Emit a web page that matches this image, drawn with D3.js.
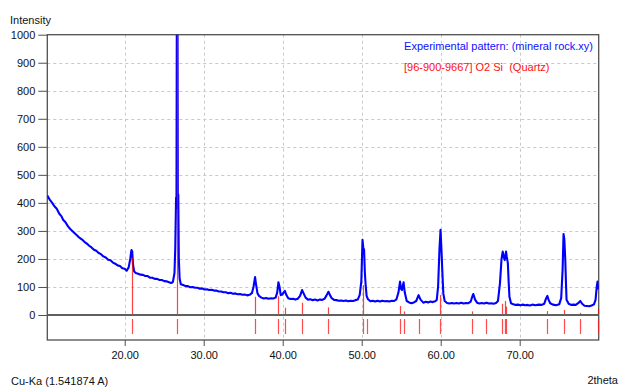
<!DOCTYPE html>
<html>
<head>
<meta charset="utf-8">
<script src="https://cdn.jsdelivr.net/npm/d3@7"></script>
<style>
  html, body { margin: 0; padding: 0; background: #fff; }
  svg text { font-family: 'Liberation Sans', Arial, sans-serif; font-size: 11px; fill: #111; }
</style>
</head>
<body>
<div class="container"></div>
<script>
// Experimental pattern, [2theta, intensity]
const pattern = [
  [10.2, 426], [10.5, 412], [10.8, 401], [11.1, 388], [11.4, 379], [11.7, 362], [12.0, 352], [12.2, 340],
  [12.5, 331], [12.8, 317], [13.1, 307], [13.4, 299], [13.7, 291], [14.0, 283], [14.3, 275], [14.6, 269],
  [14.9, 261], [15.2, 255], [15.5, 247], [15.8, 241], [16.1, 233], [16.4, 229], [16.7, 221], [17.0, 217],
  [17.3, 209], [17.6, 205], [17.9, 197], [18.2, 195], [18.5, 187], [18.8, 183], [19.1, 177], [19.4, 175],
  [19.7, 167], [20.0, 165], [20.25, 158], [20.5, 170], [20.7, 200], [20.8, 222], [20.86, 232], [20.95, 226],
  [21.05, 180], [21.2, 155], [21.4, 150], [21.7, 147], [22.0, 144], [22.3, 143], [22.6, 139], [22.9, 139],
  [23.2, 133], [23.5, 133], [23.8, 129], [24.1, 129], [24.4, 125], [24.7, 125], [25.0, 121], [25.3, 120],
  [25.6, 117], [25.9, 114], [26.1, 118], [26.3, 150], [26.4, 240], [26.5, 418], [26.55, 380], [26.6, 1150],
  [26.68, 1150], [26.72, 430], [26.78, 430], [26.85, 200], [26.95, 130], [27.1, 110], [27.4, 107], [27.7, 103],
  [28.0, 103], [28.3, 99], [28.6, 100], [28.9, 97], [29.2, 97], [29.5, 94], [29.8, 95], [30.1, 91],
  [30.4, 92], [30.7, 89], [31.0, 90], [31.3, 87], [31.6, 87], [31.9, 84], [32.2, 84], [32.5, 81],
  [32.8, 81], [33.1, 78], [33.4, 79], [33.7, 76], [34.0, 77], [34.3, 74], [34.6, 75], [34.9, 72],
  [35.2, 73], [35.5, 70], [35.8, 72], [36.1, 78], [36.3, 100], [36.5, 135], [36.62, 110], [36.8, 78],
  [37.0, 68], [37.3, 62], [37.6, 59], [37.9, 61], [38.2, 58], [38.5, 60], [38.8, 59], [39.1, 62],
  [39.3, 80], [39.46, 117], [39.6, 100], [39.75, 71], [39.9, 72], [40.1, 80], [40.27, 86], [40.45, 72],
  [40.7, 60], [41.0, 57], [41.3, 58], [41.6, 55], [41.9, 58], [42.2, 68], [42.45, 89], [42.6, 80],
  [42.9, 62], [43.2, 55], [43.5, 56], [43.8, 53], [44.1, 55], [44.4, 52], [44.7, 55], [45.0, 54],
  [45.3, 58], [45.55, 70], [45.79, 83], [46.0, 70], [46.2, 60], [46.5, 54], [46.8, 53], [47.1, 51],
  [47.4, 52], [47.7, 50], [48.0, 52], [48.3, 49], [48.6, 51], [48.9, 50], [49.2, 53], [49.5, 55],
  [49.75, 72], [49.95, 120], [50.1, 268], [50.2, 240], [50.3, 232], [50.4, 150], [50.5, 107], [50.62, 68],
  [50.8, 56], [51.1, 49], [51.4, 51], [51.7, 48], [52.0, 51], [52.3, 48], [52.6, 51], [52.9, 49],
  [53.2, 50], [53.5, 48], [53.8, 51], [54.1, 50], [54.4, 56], [54.65, 80], [54.85, 119], [55.0, 92],
  [55.1, 89], [55.3, 117], [55.45, 80], [55.7, 50], [56.0, 45], [56.3, 42], [56.6, 45], [56.9, 50],
  [57.2, 71], [57.45, 55], [57.8, 44], [58.1, 47], [58.4, 45], [58.7, 48], [59.0, 46], [59.3, 49],
  [59.5, 54], [59.67, 101], [59.85, 240], [59.98, 304], [60.1, 230], [60.18, 173], [60.33, 77], [60.5, 50],
  [60.8, 43], [61.1, 41], [61.4, 43], [61.7, 41], [62.0, 43], [62.3, 41], [62.6, 44], [62.9, 41],
  [63.2, 43], [63.5, 42], [63.8, 48], [64.0, 66], [64.13, 75], [64.35, 55], [64.6, 44], [64.9, 41],
  [65.2, 43], [65.5, 41], [65.8, 44], [66.1, 41], [66.4, 42], [66.7, 40], [67.0, 43], [67.25, 50],
  [67.5, 113], [67.7, 200], [67.85, 226], [68.0, 205], [68.1, 196], [68.27, 226], [68.35, 210], [68.5, 185],
  [68.6, 120], [68.7, 65], [68.9, 42], [69.2, 38], [69.5, 36], [69.8, 37], [70.1, 35], [70.4, 37],
  [70.7, 35], [71.0, 36], [71.3, 34], [71.6, 37], [72.0, 35], [72.4, 37], [72.8, 36], [73.1, 40],
  [73.35, 60], [73.5, 68], [73.65, 55], [73.86, 42], [74.2, 37], [74.6, 35], [75.0, 38], [75.25, 60],
  [75.43, 161], [75.55, 289], [75.65, 270], [75.77, 196], [75.85, 120], [75.93, 54], [76.2, 40], [76.5, 36],
  [76.8, 37], [77.1, 36], [77.4, 42], [77.67, 50], [77.9, 40], [78.2, 33], [78.5, 32], [78.8, 31],
  [79.1, 34], [79.4, 38], [79.6, 54], [79.75, 100], [79.85, 119], [79.95, 95], [80.0, 100]
];

// Reference pattern sticks: [96-900-9667] O2 Si (Quartz)
const stickPos = [20.86, 26.64, 36.54, 39.46, 40.29, 42.45, 45.79, 50.14, 50.62, 54.87, 55.33,
  57.24, 59.96, 63.99, 65.79, 67.74, 68.14, 68.32, 73.47, 75.66, 77.67, 79.88];
const stickHeight = [205, 1000, 65, 67, 26, 44, 27, 107, 4, 32, 13,
  5, 71, 13, 3, 40, 50, 30, 14, 18, 8, 22];

const yTicks = [0, 100, 200, 300, 400, 500, 600, 700, 800, 900, 1000];
const xTicks = [20, 30, 40, 50, 60, 70];
const legendLabels = ['Experimental pattern: (mineral rock.xy)', '[96-900-9667] O2 Si  (Quartz)'];

// Constants
const width = 622;
const height = 388;
const plotLeft = 47.3;
const plotRight = 598.7;
const plotTop = 34.7;
const zeroY = 315;
const plotBottom = 340;

const svg = d3.select('.container')
  .append('svg')
  .attr('width', width)
  .attr('height', height);

const x = d3.scaleLinear().domain([10.2, 80]).range([plotLeft, plotRight]);
const y = d3.scaleLinear().domain([0, 1000]).range([zeroY, plotTop]);

svg.append('clipPath').attr('id', 'plot-clip')
  .append('rect')
  .attr('x', plotLeft).attr('y', plotTop)
  .attr('width', plotRight - plotLeft).attr('height', zeroY - plotTop);

// Grid
svg.append('g')
  .selectAll('line')
  .data(yTicks.filter((d) => d > 0 && d < 1000))
  .enter()
  .append('line')
  .attr('x1', plotLeft).attr('x2', plotRight)
  .attr('y1', (d) => Math.round(y(d)) + 0.5)
  .attr('y2', (d) => Math.round(y(d)) + 0.5)
  .attr('stroke', '#c9c9c9')
  .attr('stroke-dasharray', '3,3');

svg.append('g')
  .selectAll('line')
  .data(xTicks)
  .enter()
  .append('line')
  .attr('x1', (d) => Math.round(x(d)) + 0.5)
  .attr('x2', (d) => Math.round(x(d)) + 0.5)
  .attr('y1', plotTop).attr('y2', plotBottom)
  .attr('stroke', '#c9c9c9')
  .attr('stroke-dasharray', '3,3');

// Zero line and frame
svg.append('line')
  .attr('x1', plotLeft).attr('x2', plotRight)
  .attr('y1', y(0)).attr('y2', y(0))
  .attr('stroke', '#606060').attr('stroke-width', 2);

svg.append('rect')
  .attr('x', plotLeft).attr('y', plotTop)
  .attr('width', plotRight - plotLeft).attr('height', plotBottom - plotTop)
  .attr('fill', 'none')
  .attr('stroke', '#505050').attr('stroke-width', 1.3);

// Y axis
const yAxis = svg.append('g')
  .attr('transform', `translate(${plotLeft},0)`)
  .call(d3.axisLeft(y).tickValues(yTicks).tickFormat(d3.format('d')).tickSize(9).tickPadding(3));
yAxis.select('.domain').remove();
yAxis.selectAll('.tick line').attr('stroke', '#505050');
yAxis.selectAll('text').attr('font-size', '11px').attr('font-family', null);

// X axis
const xAxis = svg.append('g')
  .attr('transform', `translate(0,${plotBottom})`)
  .call(d3.axisBottom(x).tickValues(xTicks).tickFormat(d3.format('.2f')).tickSize(6).tickPadding(5));
xAxis.select('.domain').remove();
xAxis.selectAll('.tick line').attr('stroke', '#505050');
xAxis.selectAll('text').attr('font-size', '11px').attr('font-family', null);

// Experimental pattern
const line = d3.line()
  .x((d) => x(d[0]))
  .y((d) => y(d[1]));

svg.append('path')
  .datum(pattern)
  .attr('clip-path', 'url(#plot-clip)')
  .attr('fill', 'none')
  .attr('stroke', '#0000ff')
  .attr('stroke-width', 2.1)
  .attr('stroke-linejoin', 'round')
  .attr('d', line);

// Sticks above zero
const sticks = stickPos.map((p, i) => ({ pos: p, h: stickHeight[i] }));

svg.append('g')
  .selectAll('line')
  .data(sticks)
  .enter()
  .append('line')
  .attr('x1', (d) => Math.round(x(d.pos)) + 0.5)
  .attr('x2', (d) => Math.round(x(d.pos)) + 0.5)
  .attr('y1', y(0) - 1)
  .attr('y2', (d) => y(d.h))
  .attr('stroke', '#ff0000')
  .attr('stroke-opacity', 0.75)
  .attr('stroke-width', 1.2);

// Sticks in the reference band below zero
svg.append('g')
  .selectAll('line')
  .data(sticks)
  .enter()
  .append('line')
  .attr('x1', (d) => Math.round(x(d.pos)) + 0.5)
  .attr('x2', (d) => Math.round(x(d.pos)) + 0.5)
  .attr('y1', 319)
  .attr('y2', 334)
  .attr('stroke', '#ff2020')
  .attr('stroke-opacity', 0.8)
  .attr('stroke-width', 1.2);

// Legend
svg.append('text')
  .attr('x', 593).attr('y', 50)
  .attr('text-anchor', 'end')
  .style('fill', '#1010ff')
  .text(legendLabels[0]);

svg.append('text')
  .attr('x', 404).attr('y', 71)
  .style('fill', '#ff1010')
  .style('white-space', 'pre')
  .text(legendLabels[1]);

// Labels
svg.append('text').attr('x', 10).attr('y', 24).text('Intensity');
svg.append('text').attr('x', 11).attr('y', 385).text('Cu-Ka (1.541874 A)');
svg.append('text').attr('x', 618).attr('y', 384).attr('text-anchor', 'end').text('2theta');
</script>
</body>
</html>
